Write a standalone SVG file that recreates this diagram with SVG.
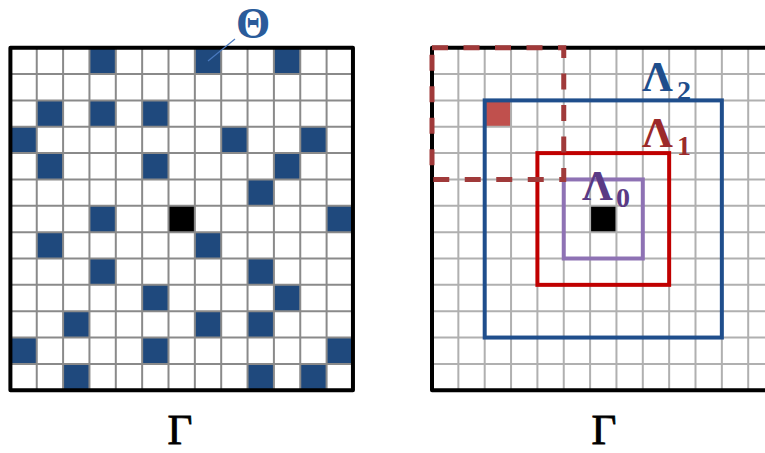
<svg xmlns="http://www.w3.org/2000/svg" width="765" height="453" viewBox="0 0 765 453">
<defs>
<style>
.bg{fill:#ffffff}
.b{fill:#1f497d}
.k{fill:#000000}
.gl{fill:none;stroke:#8a8a8a;stroke-width:2}
.gr{fill:none;stroke:#b0b0b0;stroke-width:2}
.border{fill:none;stroke:#000;stroke-width:4;stroke-linejoin:round}
.lab{font-family:"Liberation Serif","Times New Roman",serif;font-weight:bold}
.gam{font-family:"Liberation Serif","Times New Roman",serif;font-weight:normal;font-size:43px;fill:#000;stroke:#000;stroke-width:0.8;text-anchor:middle}
</style>
</defs>
<rect class="bg" x="0" y="0" width="765" height="453"/>

<g id="left-grid">
  <g id="theta-cells">
    <rect class="b" x="89.45" y="47.7" width="26.35" height="26.35"/>
    <rect class="b" x="194.85" y="47.7" width="26.35" height="26.35"/>
    <rect class="b" x="273.9" y="47.7" width="26.35" height="26.35"/>
    <rect class="b" x="36.75" y="100.4" width="26.35" height="26.35"/>
    <rect class="b" x="89.45" y="100.4" width="26.35" height="26.35"/>
    <rect class="b" x="142.15" y="100.4" width="26.35" height="26.35"/>
    <rect class="b" x="10.4" y="126.75" width="26.35" height="26.35"/>
    <rect class="b" x="221.2" y="126.75" width="26.35" height="26.35"/>
    <rect class="b" x="300.25" y="126.75" width="26.35" height="26.35"/>
    <rect class="b" x="36.75" y="153.1" width="26.35" height="26.35"/>
    <rect class="b" x="142.15" y="153.1" width="26.35" height="26.35"/>
    <rect class="b" x="273.9" y="153.1" width="26.35" height="26.35"/>
    <rect class="b" x="247.55" y="179.45" width="26.35" height="26.35"/>
    <rect class="b" x="89.45" y="205.8" width="26.35" height="26.35"/>
    <rect class="b" x="326.6" y="205.8" width="26.35" height="26.35"/>
    <rect class="b" x="36.75" y="232.15" width="26.35" height="26.35"/>
    <rect class="b" x="194.85" y="232.15" width="26.35" height="26.35"/>
    <rect class="b" x="89.45" y="258.5" width="26.35" height="26.35"/>
    <rect class="b" x="247.55" y="258.5" width="26.35" height="26.35"/>
    <rect class="b" x="142.15" y="284.85" width="26.35" height="26.35"/>
    <rect class="b" x="273.9" y="284.85" width="26.35" height="26.35"/>
    <rect class="b" x="63.1" y="311.2" width="26.35" height="26.35"/>
    <rect class="b" x="194.85" y="311.2" width="26.35" height="26.35"/>
    <rect class="b" x="247.55" y="311.2" width="26.35" height="26.35"/>
    <rect class="b" x="10.4" y="337.55" width="26.35" height="26.35"/>
    <rect class="b" x="142.15" y="337.55" width="26.35" height="26.35"/>
    <rect class="b" x="326.6" y="337.55" width="26.35" height="26.35"/>
    <rect class="b" x="63.1" y="363.9" width="26.35" height="26.35"/>
    <rect class="b" x="247.55" y="363.9" width="26.35" height="26.35"/>
    <rect class="b" x="300.25" y="363.9" width="26.35" height="26.35"/>
  </g>
  <rect id="left-center" class="k" x="168.5" y="205.8" width="26.35" height="26.35"/>
  <path class="gl" d="M36.75 47.7V390.25M63.1 47.7V390.25M89.45 47.7V390.25M115.8 47.7V390.25M142.15 47.7V390.25M168.5 47.7V390.25M194.85 47.7V390.25M221.2 47.7V390.25M247.55 47.7V390.25M273.9 47.7V390.25M300.25 47.7V390.25M326.6 47.7V390.25M10.4 74.05H352.95M10.4 100.4H352.95M10.4 126.75H352.95M10.4 153.1H352.95M10.4 179.45H352.95M10.4 205.8H352.95M10.4 232.15H352.95M10.4 258.5H352.95M10.4 284.85H352.95M10.4 311.2H352.95M10.4 337.55H352.95M10.4 363.9H352.95"/>
  <rect class="border" x="10.4" y="47.7" width="342.55" height="342.55"/>
</g>

<g id="theta-label">
  <line x1="235" y1="39" x2="208" y2="61" stroke="#4a7abf" stroke-width="1.2"/>
  <text class="lab" x="236" y="38" font-size="44" fill="#2a5b9a">Θ</text>
</g>

<g id="right-grid">
  <rect id="red-cell" x="484.7" y="100.4" width="26.35" height="26.35" fill="#c0504d"/>
  <rect id="right-center" class="k" x="590.1" y="205.8" width="26.35" height="26.35"/>
  <path class="gr" d="M458.35 47.7V390.25M484.7 47.7V390.25M511.05 47.7V390.25M537.4 47.7V390.25M563.75 47.7V390.25M590.1 47.7V390.25M616.45 47.7V390.25M642.8 47.7V390.25M669.15 47.7V390.25M695.5 47.7V390.25M721.85 47.7V390.25M748.2 47.7V390.25M432 74.05H770M432 100.4H770M432 126.75H770M432 153.1H770M432 179.45H770M432 205.8H770M432 232.15H770M432 258.5H770M432 284.85H770M432 311.2H770M432 337.55H770M432 363.9H770"/>
  <rect class="border" x="432" y="47.7" width="342.55" height="342.55"/>
</g>

<g id="lambda2">
  <rect x="484.7" y="100.4" width="237.15" height="237.15" fill="none" stroke="#1f4e8c" stroke-width="4"/>
  <text class="lab" x="642" y="91" font-size="43" fill="#1f4e8c">Λ<tspan font-size="28" x="677" y="100">2</tspan></text>
</g>

<g id="lambda1">
  <rect x="537.4" y="153.1" width="131.75" height="131.75" fill="none" stroke="#c00000" stroke-width="4"/>
  <text class="lab" x="642" y="147" font-size="43" fill="#9b2a2a">Λ<tspan font-size="28" x="677" y="155">1</tspan></text>
</g>

<g id="lambda0">
  <rect x="563.75" y="179.45" width="79.05" height="79.05" fill="none" stroke="#8e72b4" stroke-width="4"/>
  <text class="lab" x="582" y="200" font-size="43" fill="#5a3a85">Λ<tspan font-size="28" x="616" y="207">0</tspan></text>
</g>

<g id="dashed-window">
  <rect x="432" y="47.7" width="131.75" height="131.75" fill="none" stroke="#a03a3a" stroke-width="5" stroke-dasharray="16 15.5"/>
</g>

<g id="gamma-labels">
  <text class="gam" x="180" y="444">Γ</text>
  <text class="gam" x="604" y="444">Γ</text>
</g>
</svg>
